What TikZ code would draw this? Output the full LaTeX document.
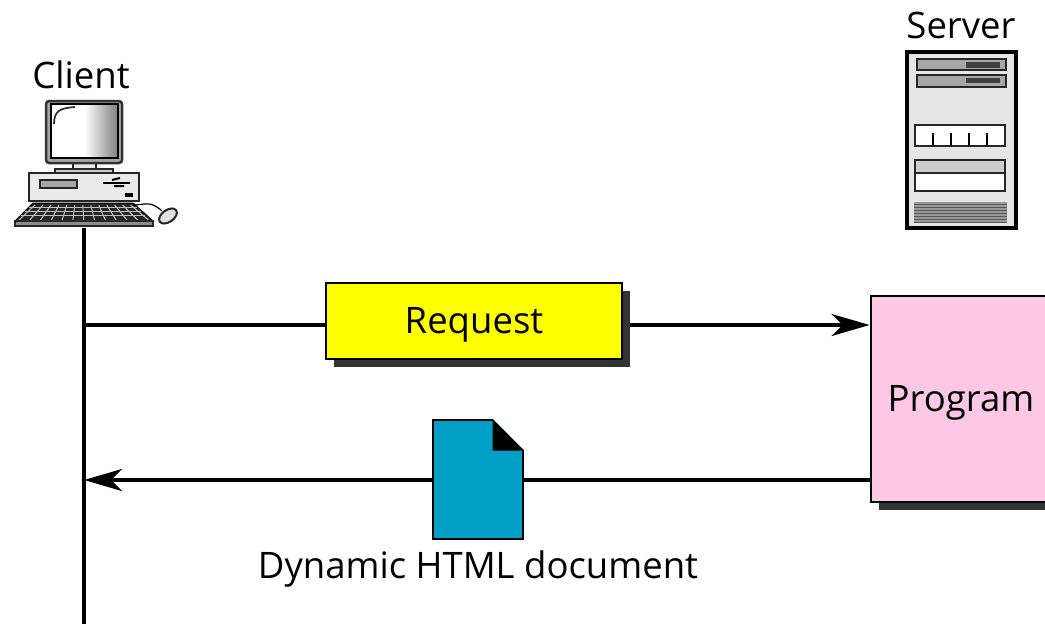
\documentclass[tikz,border=0pt]{standalone}
\usepackage{fontspec}
\setmainfont{Open Sans}
\usetikzlibrary{arrows.meta,backgrounds,shadows}
\definecolor{reqyellow}{RGB}{255,255,0}
\definecolor{progpink}{RGB}{253,200,229}
\definecolor{docblue}{RGB}{0,159,198}
\definecolor{shadowgray}{RGB}{51,51,51}
\pgfdeclarehorizontalshading{screenshade}{100bp}{color(0bp)=(white);color(50bp)=(white);color(75bp)=(black!50);color(100bp)=(black!90)}
\tikzset{
    label/.style={font=\fontsize{36.5}{40}\selectfont, inner sep=0pt, text=black},
    flow/.style={line width=3.5pt, black},
    flowtip/.style={flow, -{Stealth[length=38pt,width=22pt,inset=11pt]}},
    boxed/.style={draw=black, line width=2.8pt, label, text height=30pt, text depth=6pt,
        drop shadow={shadow xshift=8pt, shadow yshift=-8pt, fill=shadowgray, opacity=1}},
    part/.style={draw=black!85, line width=2pt},
}
\begin{document}
\begin{tikzpicture}[x=1pt, y=-1pt]
    \useasboundingbox (0,0) rectangle (1045,624);
    \clip (0,0) rectangle (1045,624);

    % labels and boxes
    \node[label] (client) at (81,75) {Client};
    \node[label] (server) at (961,25) {Server};
    \node[boxed, fill=reqyellow, minimum width=296pt, minimum height=76pt] (request) at (474,321) {Request};
    \node[boxed, fill=progpink, minimum width=180pt, minimum height=206pt] (program) at (961,399) {Program};
    \node[draw=black, line width=1.8pt, fill=docblue, minimum width=90pt, minimum height=119pt, inner sep=0pt] (doc) at (478,479.5) {};
    \node[label] (doclabel) at (478,569) {Dynamic HTML document};
    \coordinate (clienttop) at (84,228);
    \coordinate (clientend) at (84,624);
    \coordinate (reqstart) at (84,325);
    \coordinate (respend) at (84,480);

    % folded corner of the document
    \fill[white] (493,419) -- (524.5,419) -- (524.5,451) -- cycle;
    \filldraw[black, line width=1pt] (493,420) -- (523,450) -- (493,450) -- cycle;

    % connectors go behind the boxes
    \begin{scope}[on background layer]
        \fill[white] (0,0) rectangle (1045,624);
        \draw[flow] (clienttop) -- (clientend);
        \draw[flowtip] (reqstart) -- (reqstart -| program.west);
        \draw[flowtip] (respend -| program.west) -- (respend);
    \end{scope}

    % client computer
    \draw[part, fill=black!8] (29,173) rectangle (139,201);
    \draw[part, fill=black!35] (40,180) rectangle (77,188);
    \draw[line width=2.5pt] (103,183) -- (130,183);
    \draw[line width=2pt] (112,180) -- (120,178) (114,186) -- (124,186);
    \fill[black] (125,193) rectangle (133,197);
    \draw[part, fill=black!8] (73,163) rectangle (96,169);
    \draw[part, fill=black!20] (55,169) rectangle (113,173);
    \draw[black!80, line width=2.5pt, fill=black!35, rounded corners=3pt] (46,101) rectangle (122,163);
    \shade[shading=screenshade, draw=black, line width=2pt] (51,104) rectangle (118,158);
    \draw[black!80, line width=1.8pt] (54,124) .. controls (54,111) and (60,108) .. (75,107);
    \filldraw[fill=black!85, draw=black, line width=1pt] (33,203) -- (133,203) -- (153,221) -- (15,221) -- cycle;
    \foreach \t in {0,0.083,...,1} {
        \draw[black!25, line width=1pt] ({35+96*\t},205) -- ({19+130*\t},220);
    }
    \foreach \yy/\xa/\xb in {207/29/137, 211/25/141, 215/21/145} {
        \draw[black!25, line width=1pt] (\xa,\yy) -- (\xb,\yy);
    }
    \draw[part, fill=black!45] (15,221) rectangle (153,226);
    \draw[line width=1.2pt] (133,205) .. controls (145,205) and (150,200) .. (162,211);
    \draw[line width=2pt, black!85, fill=black!12, rotate around={35:(168,216)}] (168,216) ellipse (10pt and 6pt);

    % server
    \draw[black, line width=3.2pt, fill=black!10] (907,52) rectangle (1016,228);
    \foreach \ya/\yb/\yc/\yd in {59/70/62/68, 75/87/78/83} {
        \draw[part, fill=black!35] (917,\ya) rectangle (1006,\yb);
        \fill[black!75] (966,\yc) rectangle (1000,\yd);
    }
    \draw[part, fill=white] (915,125) rectangle (1005,146);
    \foreach \i in {933,951,969,987} {
        \draw[line width=1.8pt] (\i,133) -- (\i,146);
    }
    \draw[part, fill=white] (915,160) rectangle (1005,191);
    \draw[part, fill=black!20] (915,160) rectangle (1005,173);
    \fill[black!40] (914,202) rectangle (1007,222);
    \foreach \i in {204,207,...,222} {
        \draw[black!65, line width=1pt] (914,\i) -- (1007,\i);
    }
\end{tikzpicture}
\end{document}
